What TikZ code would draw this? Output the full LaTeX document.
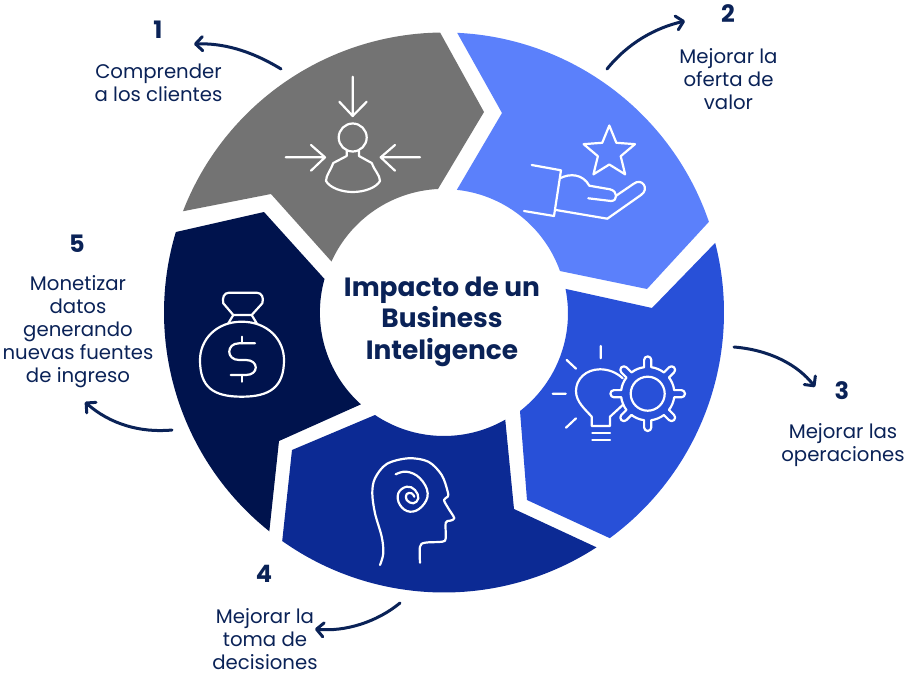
\documentclass[tikz,border=0pt]{standalone}
\usepackage{fontspec}
\setmainfont{Poppins}
\usetikzlibrary{arrows.meta}
\definecolor{txt}{HTML}{0A2257}
\definecolor{sega}{HTML}{737373}
\definecolor{segb}{HTML}{5B80FB}
\definecolor{segc}{HTML}{2850D8}
\definecolor{segd}{HTML}{0C2A94}
\definecolor{sege}{HTML}{00134D}
\tikzset{
  icon/.style={draw=white,line width=2.2pt,line cap=round,line join=round},
  flow/.style={draw=txt,line width=3pt,line cap=round,-{Straight Barb[length=7pt,width=14pt,round]}},
  lab/.style={text=txt,align=center,font=\fontsize{19.7}{23}\selectfont,inner sep=0pt},
  num/.style={text=txt,font=\fontsize{24}{24}\selectfont\bfseries,inner sep=0pt},
  title/.style={text=txt,align=center,font=\fontsize{26.4}{31.5}\selectfont\bfseries,inner sep=0pt}
}
\begin{document}
\begin{tikzpicture}[x=1pt,y=1pt,yscale=-1]
\useasboundingbox (0,0) rectangle (914,677);
\coordinate (c) at (444,312.5);
% segments
\fill[sega] (c) ++(201.2:280) arc[start angle=201.2,end angle=269.2,radius=280] -- (484,112) -- (438,189)
  arc[start angle=267.2,end angle=204.3,radius=123.5] -- (271,194) -- cycle;
\fill[segb] (c) ++(272.7:280) arc[start angle=272.7,end angle=341.1,radius=280] -- (647,289) -- (560,271)
  arc[start angle=340.3,end angle=276.1,radius=123.5] -- (502,113) -- cycle;
\fill[segc] (c) ++(-14.4:280) arc[start angle=-14.4,end angle=53.7,radius=280] -- (527,500) -- (520,411)
  arc[start angle=52.3,end angle=-11.4,radius=123.5] -- (652,308) -- cycle;
\fill[segd] (c) ++(57:280) arc[start angle=57,end angle=125.3,radius=280] -- (292,450) -- (375,415)
  arc[start angle=123.9,end angle=60.2,radius=123.5] -- (514,509) -- cycle;
\fill[sege] (c) ++(128.6:280) arc[start angle=128.6,end angle=196.7,radius=280] -- (264,212) -- (324.5,279)
  arc[start angle=195.7,end angle=131.9,radius=123.5] -- (279,441) -- cycle;
% icon 1
\draw[icon] (352.7,76.7) -- (352.7,116) (339.3,101.7) -- (352.7,116) -- (366.7,101.7);
\draw[icon] (285.7,157.3) -- (325,157.3) (311,145) -- (325,157.3) -- (311,170.7);
\draw[icon] (420,157.3) -- (380.7,157.3) (395,145) -- (380.7,157.3) -- (395,170.7);
\draw[icon] (352.7,137.5) circle[radius=14];
\draw[icon] (346.7,151) -- (346.7,156) -- (333.3,163) .. controls (331,170) and (326,175) .. (326,181)
  .. controls (330,188) and (342,192) .. (352.7,192) .. controls (364,192) and (376,188) .. (380,181)
  .. controls (380,175) and (374,170) .. (371.7,163) -- (359,156) -- (359,151);
% icon 2
\draw[icon,shift={(609.3,152.5)}] (-90:27) -- (-54:12) -- (-18:27) -- (18:12) -- (54:27) -- (90:12) -- (126:27) -- (162:12) -- (198:27) -- (234:12) -- cycle;
\draw[icon] (531.7,165) -- (561,170.3) -- (554,216) -- (524,211);
\draw[icon] (560,178.3) .. controls (570,173) and (583,174) .. (589.3,185.7) -- (610,189.3)
  .. controls (618,191) and (618,201) .. (611,201) -- (588.3,198.3);
\draw[icon] (615.7,196) -- (633.3,184) .. controls (642,177) and (650,189) .. (641,195) -- (607.3,218.7) -- (556,210);
% icon 3
\draw[icon] (600.7,346) -- (600.7,358.3) (566.7,360) -- (576,368.7) (552.7,393.7) -- (565.7,393.7) (566,427.7) -- (576,418.3);
\draw[icon] (622.7,378.3) .. controls (616,372) and (608,369.3) .. (600,369.3)
  .. controls (586,369.3) and (576,379) .. (576,391) .. controls (576,402) and (585,409) .. (591.7,416.7)
  -- (591.7,426) -- (610,426) -- (610,416.7) -- (622.7,405);
\draw[icon] (592.3,432.7) -- (610,432.7) (592.3,440) -- (610,440);
\draw[icon] (647.7,393.7) circle[radius=17];
\foreach \a in {0,45,...,315}
  \draw[icon,shift={(647.7,393.7)},rotate=\a] (26.5,-3.6) -- (33.7,-3.6) arc[start angle=-90,end angle=90,radius=3.6] -- (26.5,3.6) arc[start angle=7.8,end angle=37.2,radius=26.7];
% icon 4
\draw[icon] plot[smooth,tension=0.55] coordinates {(380,565) (383.3,553.3) (381.7,536.7) (375,513.3) (372.3,493.3) (375,478.3) (386.7,464) (408.3,458.3) (428.3,461.7) (441.7,475) (447.7,491.7) (447.7,496.7) (444,500) (448.3,508.3) (454.3,518.3) (450,520.7) (445.7,522.7) (445.7,538.3) (442.3,541.7) (425,542.7) (420,546.7) (420,562.7)};
\draw[icon] plot[smooth,tension=0.7] coordinates {(395.7,474.3) (406.7,471.7) (420,478.3) (427.7,493.3) (421.7,506.7) (410,511.7) (400,505) (398.3,493.3) (406.7,486.7) (415,490) (418.3,498.3) (413.3,503.3) (406.7,500) (406.7,494) (411.7,493.3) (414.3,496.7)};
% icon 5
\draw[icon] (233.3,315) -- (223.3,303.3) .. controls (222,298) and (224,292.7) .. (229,292.7) -- (256.7,292.7)
  .. controls (262,292.7) and (264,298) .. (262.3,303.3) -- (251.7,315) -- cycle;
\draw[icon] (233.3,315) -- (228.3,323.3) (251.7,315) -- (256.7,323.3);
\draw[icon] (241.7,321.7) .. controls (268,321.7) and (284,340) .. (284,360)
  .. controls (284,387) and (270,396.7) .. (241.7,396.7) .. controls (213,396.7) and (200,387) .. (200,360)
  .. controls (200,340) and (216,321.7) .. cycle;
\draw[icon] (242.3,336.7) -- (242.3,343.3) (242.3,375) -- (242.3,381.7);
\draw[icon] (255,343.3) -- (239,343.3) .. controls (226,343.3) and (226,360) .. (239,360) -- (246,360)
  .. controls (259,360) and (259,375) .. (246,375) -- (230.7,375);
% title
\node[title] (t) at (442,321.5) {Impacto de un\\Business\\Inteligence};
% labels
\node[num] (n1) at (158,30) {1};
\node[lab] (l1) at (158.5,83) {Comprender\\a los clientes};
\node[num] (n2) at (728,14) {2};
\node[lab] (l2) at (728.5,79) {Mejorar la\\oferta de\\valor};
\node[num] (n3) at (842,391) {3};
\node[lab] (l3) at (843,445) {Mejorar las\\operaciones};
\node[num] (n4) at (264,574) {4};
\node[lab] (l4) at (265,639) {Mejorar la\\toma de\\decisiones};
\node[num] (n5) at (77,244) {5};
\node[lab] (l5) at (78,332) {Monetizar\\datos\\generando\\nuevas fuentes\\de ingreso};
% arrows
\coordinate (a1s) at (281,69); \coordinate (a1e) at (194,44);
\coordinate (a2s) at (607,69); \coordinate (a2e) at (685,21);
\coordinate (a3s) at (734,347); \coordinate (a3e) at (815,387);
\coordinate (a4s) at (400,603); \coordinate (a4e) at (315,629);
\coordinate (a5s) at (172,430); \coordinate (a5e) at (85,402);
\draw[flow] (a1s) .. controls (250,50) and (222,43) .. (a1e);
\draw[flow] (a2s) .. controls (628,43) and (655,28) .. (a2e);
\draw[flow] (a3s) .. controls (770,350) and (798,365) .. (a3e);
\draw[flow] (a4s) .. controls (377,622) and (345,632) .. (a4e);
\draw[flow] (a5s) .. controls (140,433) and (110,424) .. (a5e);
\end{tikzpicture}
\end{document}
